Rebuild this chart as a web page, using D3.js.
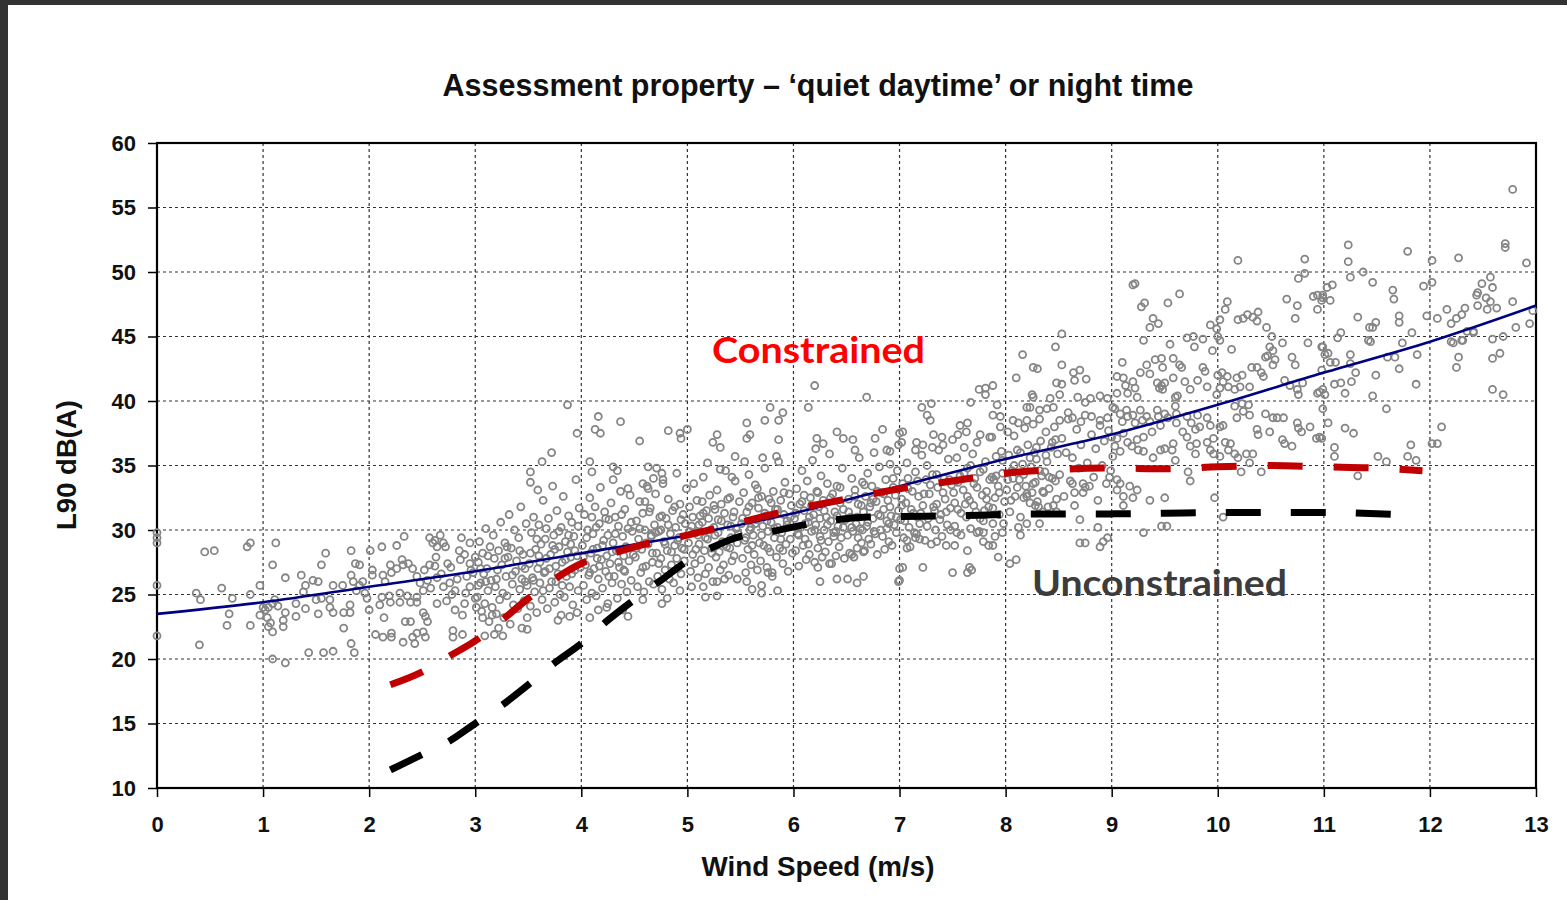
<!DOCTYPE html>
<html>
<head>
<meta charset="utf-8">
<script src="https://cdn.jsdelivr.net/npm/d3@7"></script>
<style>
  body { margin: 0; background: #fff; }
</style>
</head>
<body>
<svg id="chart" width="1567" height="900"></svg>
<script>
// axis ticks
const xTicks = [0, 1, 2, 3, 4, 5, 6, 7, 8, 9, 10, 11, 12, 13];
const yTicks = [10, 15, 20, 25, 30, 35, 40, 45, 50, 55, 60];

// fitted trend (blue)
const trendWind = [0, 1, 2, 3, 4, 5, 6, 7, 8, 9, 10, 11, 12, 13];
const trendL90 = [23.5, 24.4, 25.6, 26.8, 28.2, 29.6, 31.3, 33.4, 35.5, 37.4, 39.7, 42.2, 44.6, 47.4];

// constrained curve (red dashed)
const conWind = [2.2, 2.5, 2.75, 3, 3.25, 3.5, 3.75, 4, 4.3, 4.6, 5, 5.5, 6, 6.5, 7, 7.5, 8, 8.5, 9, 9.5, 10, 10.5, 11, 11.5, 11.93];
const conL90 = [18.0, 19.0, 20.2, 21.4, 23.0, 24.7, 26.2, 27.4, 28.2, 28.9, 29.6, 30.6, 31.6, 32.4, 33.2, 33.8, 34.4, 34.7, 34.8, 34.75, 34.9, 35.0, 34.9, 34.8, 34.6];

// unconstrained curve (black dashed)
const uncWind = [2.2, 2.5, 2.75, 3, 3.25, 3.5, 3.75, 4, 4.25, 4.5, 4.75, 5, 5.25, 5.5, 5.8, 6.1, 6.4, 6.7, 7, 7.5, 8, 8.5, 9, 9.5, 10, 10.5, 11, 11.67];
const uncL90 = [11.4, 12.6, 13.6, 15.0, 16.4, 18.0, 19.7, 21.2, 23.0, 24.6, 26.1, 27.6, 28.7, 29.5, 29.9, 30.4, 30.8, 31.0, 31.05, 31.1, 31.2, 31.25, 31.25, 31.3, 31.35, 31.35, 31.35, 31.2];

// measured L90 vs wind speed, [m/s, dB(A)]
const calmPoints = [[0,29.8],[0,29.4],[0,29.0],[0,25.7],[0,21.8],
[0.45,28.3],[0.54,28.4],[0.37,25.1],[0.41,24.6],[0.4,21.1],[0.61,25.5],[0.66,22.6],[0.68,23.5],[0.71,24.7],[0.85,28.7],[0.88,29.0],[0.88,25.0],[0.88,22.6],[0.97,25.7],
[0.97,23.4],[1.02,23.8],[1.04,23.2],[1.07,22.8],[1.05,22.5],[1.0,24.0],[1.05,24.0],[1.09,24.3],[1.14,24.1],[1.11,24.6],[1.09,22.1],[1.09,20.0],[1.21,19.7],[1.12,29.0],[1.09,27.3],[1.21,26.3],[1.21,23.6],[1.19,23.0],[1.19,22.5],[1.31,24.3],[1.31,23.3],[1.36,26.5],[1.4,25.7],[1.38,25.2],[1.4,23.9],[1.43,20.5],[1.47,26.1],[1.52,26.0],[1.5,24.6],[1.55,24.7],[1.52,23.5],[1.55,27.3],[1.59,28.2],[1.57,20.5],[1.66,20.6],[1.63,24.6],[1.63,24.0],[1.66,23.6],[1.66,25.7],[1.75,25.7],[1.76,23.6],[1.76,22.4],[1.83,28.4],[1.83,26.5],[1.85,26.0],[1.82,24.2],[1.82,23.6],[1.83,21.2],[1.86,20.5],[1.87,27.4],[1.91,27.3],[1.88,25.3],[1.91,25.7],[1.94,26.0],[1.96,25.1],[1.98,24.7],[2.0,23.8],[2.01,28.4],[2.03,26.9],[2.03,26.5],[2.06,21.9],[2.13,21.7],[2.21,22.0],[2.21,21.7],[2.12,28.7],[2.13,26.5],[2.15,26.0],[2.2,27.3],[2.21,26.7],[2.26,27.0],[2.26,28.8],[2.14,23.2],[2.1,24.2],[2.2,24.4],[2.29,24.4],[2.39,24.4],[2.45,24.4],[2.12,24.8],[2.19,24.9],[2.29,25.1],[2.36,24.9],[2.45,24.8],[2.33,29.5],[2.31,27.7],[2.32,27.3],[2.37,27.4],[2.41,27.0],[2.34,22.9],[2.39,22.9],[2.32,21.3],[2.41,21.7],[2.45,22.0],[2.51,22.1],[2.53,21.7],[2.43,21.2],[2.51,23.6],[2.53,23.3],[2.55,22.9],[2.45,26.4],[2.48,25.9],[2.51,25.3],[2.57,29.4],[2.62,29.2],[2.67,29.6],[2.7,29.0],[2.64,28.7],[2.72,28.7],[2.6,29.0],[2.57,27.3],[2.62,27.2],[2.74,27.4],[2.64,24.3],[2.55,26.1],[2.64,26.3],[2.7,25.6],[2.76,25.9],[2.81,25.3],[2.78,25.0],[2.79,22.2],[2.79,21.7],[2.88,21.9],[2.81,23.8],[2.88,23.4],[2.87,29.4],[2.9,24.3],[2.86,27.7],[2.9,28.1],[2.95,27.4],[3.0,27.9],[2.95,29.0],[2.92,26.4],[2.98,26.7],[3.03,25.7],[2.95,25.6],[3.0,24.7],[3.01,24.0],
[2.52,26.9],[2.58,25.5],[2.63,27.9],[2.68,26.6],[2.73,24.5],[2.77,27.1],[2.83,26.2],[2.85,28.4],[2.91,25.1],[2.96,26.9]];

const risingPoints = [[3.02,24.8],[3.03,27.5],[3.04,29.1],[3.05,25.9],[3.06,23.7],[3.07,28.2],[3.08,26.6],[3.09,24.3],[3.1,30.1],[3.11,27.0],[3.12,25.3],[3.13,22.9],[3.14,28.7],[3.15,26.1],[3.16,24.0],[3.17,29.6],[3.18,27.8],[3.19,25.6],[3.2,23.5],[3.21,26.9],[3.22,28.4],[3.23,24.6],[3.24,30.6],[3.25,27.3],[3.26,25.1],[3.27,23.2],[3.28,29.0],[3.29,26.4],[3.3,24.9],[3.31,27.9],[3.32,31.2],[3.33,22.7],[3.34,28.6],[3.35,25.8],[3.36,24.2],[3.37,30.0],[3.38,26.8],[3.39,27.6],[3.4,23.9],[3.41,29.4],[3.42,25.4],[3.43,31.8],[3.44,26.2],[3.45,28.1],[3.46,24.5],[3.47,27.0],[3.48,30.5],[3.49,25.7],
[3.05,27.0],[3.12,28.0],[3.2,26.2],[3.28,27.8],[3.35,26.5],[3.42,28.4],[3.47,26.0],[3.1,26.0],[3.3,28.7],[3.44,27.2],
[3.09,21.8],[3.18,21.9],[3.26,21.8],[3.22,22.4],[3.07,23.2],[3.16,23.4],[3.44,22.4],[3.49,22.3],[3.49,23.2],
[3.51,27.4],[3.52,24.1],[3.53,29.8],[3.54,26.3],[3.55,31.0],[3.56,25.2],[3.57,28.5],[3.58,23.6],[3.59,27.0],[3.6,30.4],[3.61,25.9],[3.62,28.9],[3.63,24.6],[3.64,32.3],[3.65,26.7],[3.66,29.3],[3.67,27.8],[3.68,23.9],[3.69,30.9],[3.7,25.5],[3.71,28.1],[3.72,26.0],[3.73,33.4],[3.74,29.6],[3.75,24.4],[3.76,27.2],[3.77,31.5],[3.78,26.6],[3.79,28.7],[3.8,25.0],[3.81,30.2],[3.82,27.5],[3.83,32.6],[3.84,24.8],[3.85,29.1],[3.86,26.4],[3.87,28.3],[3.88,31.1],[3.89,25.6],[3.9,27.9],[3.91,30.6],[3.92,24.2],[3.93,29.5],[3.94,26.9],[3.95,33.9],[3.96,28.0],[3.97,25.3],[3.98,31.7],[3.99,27.1],
[3.52,28.2],[3.55,26.1],[3.58,29.3],[3.61,27.5],[3.64,25.3],[3.67,30.1],[3.7,27.0],[3.73,28.8],[3.76,26.0],[3.79,29.9],[3.82,25.7],[3.85,27.7],[3.88,29.6],[3.91,26.6],[3.94,28.4],[3.97,30.3],[3.6,28.0],[3.75,28.5],[3.9,28.9],[3.66,26.8],
[3.78,23.0],[3.81,23.4],[3.89,23.3],[3.96,23.6],[4.08,23.2],[4.16,23.8],[4.24,24.0],[4.44,23.3],[4.39,23.8],[4.58,24.6],[4.76,24.3],[4.81,24.7],[4.93,25.3],[5.04,25.6],
[3.87,39.7],[4.16,38.8],[4.13,37.8],[4.18,37.5],[4.37,38.4],[3.96,37.5],[4.55,36.9],[4.82,37.7],[4.93,37.5],[5.0,37.8],[4.94,37.1],[3.72,36.0],[3.63,35.3],[4.08,35.3],[4.1,34.5],[4.3,34.9],[4.34,34.6],[4.3,33.9],[4.63,34.9],[4.71,34.8],[4.76,34.4],[4.68,34.0],[4.77,33.6],[3.52,34.5],[3.52,33.7],[3.59,33.1],[4.44,33.2],[4.58,33.6],[4.63,33.2],
[4.01,28.8],[4.02,25.7],[4.03,31.2],[4.04,27.3],[4.05,24.6],[4.06,30.0],[4.07,26.5],[4.08,32.5],[4.09,28.2],[4.1,25.1],[4.11,29.7],[4.12,27.0],[4.13,31.8],[4.14,24.9],[4.15,28.6],[4.16,26.2],[4.17,30.5],[4.18,33.3],[4.19,27.7],[4.2,25.5],[4.21,29.2],[4.22,31.4],[4.23,26.8],[4.24,28.0],[4.25,24.3],[4.26,30.8],[4.27,27.4],[4.28,32.1],[4.29,25.9],[4.3,29.0],[4.31,26.4],[4.32,31.0],[4.33,28.4],[4.34,24.7],[4.35,30.3],[4.36,27.1],[4.37,33.0],[4.38,25.8],[4.39,29.5],[4.4,26.9],[4.41,31.6],[4.42,28.7],[4.43,25.2],[4.44,30.1],[4.45,27.6],[4.46,32.7],[4.47,26.1],[4.48,29.9],[4.49,28.1],
[4.02,27.9],[4.05,29.4],[4.08,26.7],[4.11,28.5],[4.14,30.2],[4.17,27.2],[4.2,28.8],[4.23,30.9],[4.26,26.4],[4.29,28.3],[4.32,29.7],[4.35,27.5],[4.38,31.2],[4.41,26.8],[4.44,28.6],[4.47,30.6],[4.1,31.0],[4.25,29.6],[4.4,28.0],[4.15,27.8],
[4.51,27.9],[4.52,30.7],[4.53,25.6],[4.54,29.3],[4.55,32.2],[4.56,26.7],[4.57,28.5],[4.58,31.3],[4.59,25.2],[4.6,30.0],[4.61,27.2],[4.62,33.4],[4.63,28.9],[4.64,26.0],[4.65,31.7],[4.66,29.6],[4.67,27.5],[4.68,25.8],[4.69,30.4],[4.7,32.8],[4.71,28.2],[4.72,26.4],[4.73,29.9],[4.74,31.0],[4.75,27.8],[4.76,25.4],[4.77,33.9],[4.78,29.1],[4.79,26.9],[4.8,30.9],[4.81,28.4],[4.82,32.4],[4.83,26.2],[4.84,29.7],[4.85,27.3],[4.86,31.5],[4.87,25.9],[4.88,28.8],[4.89,30.2],[4.9,34.4],[4.91,27.0],[4.92,29.4],[4.93,32.0],[4.94,26.6],[4.95,28.6],[4.96,31.2],[4.97,27.6],[4.98,30.5],[4.99,33.2],
[4.52,28.6],[4.55,30.1],[4.58,27.1],[4.61,29.0],[4.64,31.4],[4.67,28.2],[4.7,29.8],[4.73,27.4],[4.76,31.1],[4.79,28.9],[4.82,30.4],[4.85,28.3],[4.88,31.8],[4.91,29.2],[4.94,30.8],[4.97,28.5],[4.6,32.2],[4.75,30.0],[4.9,27.8],[4.66,29.5]];

const moderatePoints = [[5.01,29.0],[5.02,31.8],[5.03,26.8],[5.04,30.3],[5.05,28.1],[5.06,33.6],[5.07,27.4],[5.08,29.8],[5.09,32.3],[5.1,26.3],[5.11,28.9],[5.12,31.1],[5.13,27.7],[5.14,30.6],[5.15,34.1],[5.16,28.4],[5.17,26.6],[5.18,31.5],[5.19,29.3],[5.2,27.1],[5.21,32.7],[5.22,30.0],[5.23,28.6],[5.24,26.0],[5.25,31.9],[5.26,29.6],[5.27,27.9],[5.28,33.1],[5.29,30.8],[5.3,28.3],[5.31,26.9],[5.32,32.0],[5.33,29.1],[5.34,27.3],[5.35,31.3],[5.36,34.6],[5.37,28.7],[5.38,30.4],[5.39,26.5],[5.4,32.5],[5.41,29.4],[5.42,27.6],[5.43,31.0],[5.44,28.0],[5.45,33.8],[5.46,30.1],[5.47,26.2],[5.48,29.7],[5.49,32.2],
[5.02,29.9],[5.05,31.0],[5.08,28.5],[5.11,30.4],[5.14,32.2],[5.17,29.4],[5.2,30.9],[5.23,28.2],[5.26,31.6],[5.29,29.8],[5.32,30.7],[5.35,28.9],[5.38,32.4],[5.41,30.3],[5.44,31.4],[5.47,29.0],[5.1,29.6],[5.25,30.2],[5.4,28.6],[5.15,31.3],
[5.51,30.5],[5.52,27.8],[5.53,32.9],[5.54,29.2],[5.55,26.7],[5.56,31.4],[5.57,28.5],[5.58,34.3],[5.59,30.0],[5.6,27.3],[5.61,32.1],[5.62,29.6],[5.63,28.1],[5.64,33.5],[5.65,30.8],[5.66,26.9],[5.67,31.7],[5.68,29.0],[5.69,27.6],[5.7,32.6],[5.71,30.3],[5.72,28.8],[5.73,34.8],[5.74,31.1],[5.75,27.1],[5.76,29.9],[5.77,32.4],[5.78,28.3],[5.79,30.6],[5.8,26.4],[5.81,33.0],[5.82,29.4],[5.83,31.6],[5.84,27.9],[5.85,30.2],[5.86,35.3],[5.87,28.6],[5.88,32.3],[5.89,29.8],[5.9,27.4],[5.91,31.2],[5.92,33.7],[5.93,28.9],[5.94,30.7],[5.95,26.8],[5.96,32.8],[5.97,29.3],[5.98,31.9],[5.99,28.2],
[5.52,30.9],[5.55,29.4],[5.58,31.8],[5.61,28.8],[5.64,30.5],[5.67,32.5],[5.7,29.6],[5.73,31.3],[5.76,28.6],[5.79,32.1],[5.82,30.1],[5.85,31.6],[5.88,29.3],[5.91,32.9],[5.94,30.4],[5.97,31.0],[5.6,30.2],[5.75,30.7],[5.9,28.4],[5.66,33.2],
[6.01,30.9],[6.02,28.4],[6.03,33.2],[6.04,29.7],[6.05,27.2],[6.06,32.0],[6.07,30.2],[6.08,34.6],[6.09,28.8],[6.1,31.5],[6.11,29.3],[6.12,27.7],[6.13,33.8],[6.14,30.6],[6.15,28.1],[6.16,32.5],[6.17,29.9],[6.18,35.4],[6.19,31.2],[6.2,27.5],[6.21,30.4],[6.22,33.0],[6.23,28.6],[6.24,31.8],[6.25,29.5],[6.26,34.2],[6.27,27.9],[6.28,32.3],[6.29,30.0],[6.3,28.3],[6.31,31.0],[6.32,33.6],[6.33,29.1],[6.34,35.9],[6.35,30.7],[6.36,27.4],[6.37,32.8],[6.38,29.8],[6.39,31.4],[6.4,28.0],[6.41,33.4],[6.42,30.3],[6.43,28.7],[6.44,32.1],[6.45,29.4],[6.46,34.8],[6.47,31.6],[6.48,27.8],[6.49,30.8],
[6.02,31.3],[6.05,29.6],[6.08,32.2],[6.11,30.5],[6.14,28.9],[6.17,31.9],[6.2,30.0],[6.23,32.9],[6.26,29.2],[6.29,31.5],[6.32,30.4],[6.35,32.5],[6.38,29.5],[6.41,31.1],[6.44,33.3],[6.47,30.2],[6.1,32.7],[6.25,30.9],[6.4,29.9],[6.15,31.0],
[6.51,29.6],[6.52,32.4],[6.53,28.2],[6.54,31.0],[6.55,34.0],[6.56,29.9],[6.57,27.9],[6.58,33.1],[6.59,30.5],[6.6,28.6],[6.61,32.0],[6.62,35.6],[6.63,30.1],[6.64,29.0],[6.65,33.7],[6.66,31.4],[6.67,28.4],[6.68,32.6],[6.69,30.3],[6.7,34.4],[6.71,29.3],[6.72,31.8],[6.73,28.9],[6.74,33.4],[6.75,30.9],[6.76,36.0],[6.77,29.7],[6.78,32.2],[6.79,28.1],[6.8,31.2],[6.81,34.9],[6.82,30.0],[6.83,32.9],[6.84,29.5],[6.85,31.6],[6.86,28.5],[6.87,33.9],[6.88,30.7],[6.89,32.3],[6.9,29.1],[6.91,35.1],[6.92,31.1],[6.93,28.8],[6.94,33.3],[6.95,30.4],[6.96,32.7],[6.97,29.8],[6.98,34.6],[6.99,31.5],
[6.52,31.4],[6.55,30.2],[6.58,32.6],[6.61,29.4],[6.64,31.9],[6.67,33.5],[6.7,30.6],[6.73,32.1],[6.76,29.9],[6.79,33.0],[6.82,31.1],[6.85,32.8],[6.88,30.1],[6.91,31.8],[6.94,34.0],[6.97,31.0],[6.6,31.0],[6.75,32.4],[6.9,30.5],[6.65,30.0],
[6.2,41.2],[6.69,40.3],[6.14,39.5],[5.78,39.5],[5.9,39.1],[5.86,38.5],[5.73,38.5],[5.56,38.3],[5.28,37.4],[5.24,36.8],[5.31,36.4],[5.59,37.4],[5.56,37.1],[5.86,37.0],[6.22,37.1],[6.28,36.7],[6.21,36.3],[6.41,37.6],[6.47,37.1],[6.56,37.0],[6.58,36.2],[6.84,37.8],[6.77,37.1],[6.88,36.2],[6.91,36.1],[7.0,37.5],[6.99,36.6],[5.45,35.7],[5.19,35.2],[5.42,34.1],[5.31,34.7],[5.71,35.6],[5.54,35.3],[5.84,35.7],
[5.17,24.8],[5.28,24.9],[5.35,26.2],[5.28,26.0],[5.61,25.4],[5.7,25.1],[5.7,25.7],[5.85,25.3],[5.76,26.7],[5.8,26.7],[5.56,26.0],[5.15,25.6],[6.25,26.0],[6.23,27.1],[6.34,27.4],[6.41,26.2],[6.51,26.2],[6.6,25.9],[6.66,26.4],[6.55,28.1],[6.66,28.3],[7.0,27.0],[6.99,26.0]];

const breezyPoints = [[7.01,30.8],[7.03,33.6],[7.04,29.4],[7.06,32.1],[7.07,35.2],[7.09,30.2],[7.1,28.7],[7.12,33.0],[7.13,31.3],[7.15,34.5],[7.16,29.7],[7.18,32.6],[7.19,30.5],[7.21,35.8],[7.22,31.9],[7.24,29.2],[7.25,33.9],[7.27,30.9],[7.28,32.8],[7.3,28.9],[7.31,34.3],[7.33,31.5],[7.34,30.0],[7.36,33.3],[7.37,36.2],[7.39,31.2],[7.4,29.5],[7.42,34.0],[7.43,32.4],[7.45,30.4],[7.46,35.5],[7.48,31.7],[7.49,33.5],[7.02,31.9],[7.08,34.0],[7.17,31.0],[7.26,35.0],[7.35,32.0],[7.44,28.8],
[7.02,32.4],[7.05,30.7],[7.08,33.2],[7.11,31.6],[7.14,29.8],[7.17,33.8],[7.2,31.3],[7.23,32.8],[7.26,30.3],[7.29,33.5],[7.32,31.8],[7.35,34.3],[7.38,30.8],[7.41,32.9],[7.44,31.4],[7.47,33.9],
[7.51,32.9],[7.52,30.3],[7.54,35.6],[7.55,31.6],[7.57,34.2],[7.58,29.6],[7.6,33.1],[7.61,36.4],[7.63,31.0],[7.64,34.8],[7.66,32.3],[7.67,30.1],[7.69,35.9],[7.7,33.6],[7.72,31.4],[7.73,36.8],[7.75,29.9],[7.76,34.5],[7.78,32.7],[7.79,30.7],[7.81,35.3],[7.82,33.0],[7.84,31.8],[7.85,37.2],[7.87,34.1],[7.88,30.5],[7.9,32.5],[7.91,35.7],[7.93,33.4],[7.94,31.2],[7.96,36.1],[7.97,34.4],[7.99,32.2],[7.53,33.8],[7.62,32.0],[7.71,34.0],[7.8,31.5],[7.89,33.9],
[7.52,32.1],[7.55,33.7],[7.58,31.3],[7.61,34.4],[7.64,32.6],[7.67,35.0],[7.7,31.9],[7.73,33.3],[7.76,30.9],[7.79,34.7],[7.82,32.4],[7.85,33.9],[7.88,31.7],[7.91,34.2],[7.94,32.9],[7.97,35.4],
[8.01,33.1],[8.03,35.8],[8.04,31.4],[8.06,34.6],[8.08,37.3],[8.09,32.6],[8.11,36.2],[8.13,33.9],[8.14,31.0],[8.16,35.1],[8.18,37.9],[8.19,33.4],[8.21,36.6],[8.23,32.1],[8.24,34.9],[8.26,38.2],[8.28,33.7],[8.29,35.5],[8.31,31.8],[8.33,36.9],[8.34,34.2],[8.36,32.9],[8.38,37.6],[8.39,35.3],[8.41,33.2],[8.43,36.4],[8.44,34.0],[8.46,38.0],[8.48,32.4],[8.49,35.9],[8.07,34.0],[8.17,32.5],[8.27,36.0],[8.37,34.5],[8.47,37.0],
[8.02,33.9],[8.05,32.3],[8.08,35.0],[8.11,33.3],[8.14,36.0],[8.17,34.3],[8.2,32.8],[8.23,35.6],[8.26,33.6],[8.29,36.4],[8.32,34.6],[8.35,33.0],[8.38,35.8],[8.41,34.1],[8.44,36.8],[8.47,33.8],
[8.51,34.3],[8.53,37.1],[8.55,32.6],[8.57,36.0],[8.59,38.6],[8.61,33.8],[8.63,35.6],[8.65,31.9],[8.67,37.8],[8.69,34.8],[8.71,36.6],[8.73,32.9],[8.75,38.9],[8.77,35.2],[8.79,33.4],[8.81,37.4],[8.83,34.1],[8.85,36.3],[8.87,32.3],[8.89,38.1],[8.91,35.0],[8.93,36.9],[8.95,33.6],[8.97,37.7],[8.99,34.6],
[8.53,45.2],[8.47,44.2],[8.53,42.8],[8.16,43.6],[8.26,42.6],[8.3,42.5],[8.1,41.8],[8.64,42.2],[8.7,42.4],[8.76,41.7],[8.65,41.6],[8.48,41.4],[8.53,41.3],[7.75,40.9],[7.81,41.0],[7.88,41.2],[7.81,40.5],[8.25,40.5],[8.26,40.3],[7.67,39.9],[7.21,39.5],[7.3,39.8],[7.26,38.9],[7.29,38.5],[7.92,39.7],[7.88,38.9],[7.95,38.8],
[8.42,40.2],[8.51,40.5],[8.68,40.3],[8.75,39.9],[8.8,40.2],[8.89,40.4],[8.96,40.2],[8.2,39.5],[8.23,39.5],[8.32,39.3],[8.39,39.4],[8.45,39.5],[8.59,39.1],
[8.07,38.5],[8.12,38.3],[8.2,38.5],[8.32,38.6],[8.51,38.5],[8.63,38.7],[8.71,38.4],[8.81,38.8],[8.89,38.5],[8.96,38.7],
[7.57,38.1],[7.64,38.3],[7.63,37.6],[7.55,37.4],[7.5,37.0],[7.4,37.2],[7.32,37.4],[7.41,36.6],[7.31,36.4],[7.16,36.8],[7.22,36.6],[7.15,36.2],[7.03,37.6],[7.02,36.8],[7.76,37.4],[7.87,37.2],[7.95,38.0],[8.02,37.6],
[7.5,26.7],[7.64,26.7],[7.66,27.1],[7.68,26.9],[7.22,27.1],[7.03,27.1],[7.0,26.1],[8.04,27.4],[8.1,27.7],[7.93,27.9],[7.52,28.8],[7.64,28.4],[7.79,29.1],[7.84,28.8],[7.88,28.8],[7.9,29.5],[7.97,29.8],[7.98,30.5],[7.07,29.2],[7.15,29.4],[7.19,29.3],[7.07,28.6],[7.35,29.1],[7.48,30.0],[7.54,29.8],[7.73,29.8],[7.79,29.8],
[8.14,29.6],[8.2,30.5],[8.12,30.2],[8.3,32.2],[8.28,31.9],[8.35,31.4],[8.4,31.8],[8.45,31.9],[8.48,31.4],[8.2,32.6],[8.25,32.9],[8.32,30.5],[8.7,30.8],[8.75,29.0],[8.7,29.0],[8.92,29.1],[8.89,28.7],[8.96,29.4],[8.87,30.2],[8.63,33.6],[8.73,33.6],[8.75,33.3],[8.65,32.9]];

const windyPoints = [[10.19,50.9],[10.82,51.0],[10.82,49.9],[10.76,49.5],[9.2,49.0],[9.22,49.1],[9.64,48.3],[9.28,47.3],[9.31,47.6],[9.53,47.6],[10.09,47.7],[10.07,47.1],[10.65,47.9],[10.75,47.4],[10.73,46.4],[10.9,48.1],[10.94,48.2],[10.99,48.0],[10.94,47.1],
[10.19,46.3],[10.24,46.4],[10.28,46.7],[10.33,46.5],[10.38,46.9],[10.37,46.2],[10.46,45.7],[9.39,46.4],[9.44,46.0],[9.36,45.7],[9.93,45.9],[9.99,45.6],[10.02,46.3],[9.71,44.9],[9.77,45.0],[9.86,44.8],[9.78,44.2],[10.0,45.0],[10.02,44.7],[9.95,43.9],[10.13,44.0],[9.55,44.4],[9.3,44.7],
[10.51,45.0],[10.61,44.5],[10.49,44.2],[10.52,43.9],[10.54,43.2],[10.52,42.8],[10.45,43.4],[10.47,43.5],[10.7,43.4],[10.73,42.8],[10.85,44.5],[10.98,44.2],[11.01,43.6],[9.1,43.0],
[9.27,42.2],[9.33,42.8],[9.36,42.1],[9.41,43.2],[9.47,43.3],[9.48,42.6],[9.58,43.3],[9.64,42.8],[9.66,42.6],[9.86,42.6],[9.88,42.3],
[9.05,41.9],[9.11,41.8],[9.13,41.2],[9.2,41.5],[9.22,41.0],[9.15,40.6],[9.24,40.3],[9.05,40.6],[9.01,39.5],[9.43,41.4],[9.47,41.2],[9.5,41.4],[9.45,41.0],[9.48,40.9],[9.58,41.8],[9.69,41.5],[9.81,41.6],[9.9,41.1],[9.74,40.9],[9.6,40.3],[9.62,40.4],
[10.0,42.0],[10.04,42.2],[10.09,41.9],[10.05,41.5],[10.02,41.0],[9.99,40.5],[10.1,41.1],[10.18,41.8],[10.23,42.0],[10.21,41.1],[10.16,40.9],[10.32,42.6],[10.37,42.6],[10.41,42.2],[10.43,41.9],[10.3,41.1],[10.63,41.6],[10.68,41.2],[10.75,40.9],[10.76,40.5],[10.8,41.4],[10.94,40.6],[10.96,40.7],
[9.03,39.4],[9.08,39.0],[9.14,39.3],[9.15,38.8],[9.1,38.4],[9.2,38.9],[9.22,38.3],[9.27,39.3],[9.29,38.5],[9.33,38.8],[9.36,38.4],[9.38,37.6],[9.43,39.3],[9.44,38.8],[9.46,38.1],[9.5,39.0],[9.53,38.7],[9.6,39.6],[9.61,39.0],[9.61,38.3],[9.67,37.6],[9.71,38.8],[9.75,38.3],[9.79,37.8],[9.81,38.9],[9.83,38.0],[9.9,38.7],[9.93,38.1],[9.96,37.1],[10.02,38.0],[10.05,38.1],[10.16,39.6],[10.18,38.7],[10.23,39.8],[10.24,39.2],[10.29,39.7],[10.3,38.9],[10.37,37.8],[10.38,37.4],[10.45,39.0],[10.49,37.6],[10.52,38.7],[10.56,38.7],[10.62,38.7],[10.61,37.0],[10.63,36.7],[10.7,36.5],[10.75,38.3],[10.76,37.9],[10.79,37.6],[10.87,38.0],[10.93,37.1],[10.96,37.2],[10.99,39.4],
[9.0,37.2],[9.05,37.1],[9.11,37.5],[9.03,36.5],[9.08,36.1],[9.01,35.7],[9.15,36.8],[9.19,36.5],[9.24,37.0],[9.3,37.2],[9.25,36.2],[9.3,36.1],[9.39,35.6],[9.46,36.2],[9.5,36.3],[9.58,36.7],[9.57,36.2],[9.6,35.4],[9.71,37.2],[9.74,36.5],[9.8,36.7],[9.79,35.9],[9.9,36.8],[9.93,36.2],[9.96,35.9],[10.02,35.7],[10.07,36.8],[10.12,36.7],[10.1,36.2],[10.16,35.9],[10.19,35.6],[10.27,35.9],[10.33,35.9],[10.3,35.2],[10.41,34.5],[10.22,34.5],[9.72,34.5],
[8.98,34.1],[9.05,33.9],[9.08,33.6],[9.05,33.1],[9.17,33.4],[9.24,33.1],[9.2,32.5],[9.11,32.6],[9.11,31.9],[9.36,32.3],[9.5,32.5],[9.47,30.3],[9.52,30.3],[9.3,29.8],[9.74,33.8],[9.97,32.5],[10.05,31.0]];

const gustyPoints = [[12.78,56.4],[11.23,52.1],[11.23,50.8],[11.25,49.6],[11.37,50.0],[11.79,51.6],[12.02,50.9],[12.27,51.1],[12.71,52.2],[12.71,51.9],[12.91,50.7],[11.46,49.2],
[11.08,49.0],[11.03,48.8],[10.99,48.2],[11.06,47.8],[10.98,47.8],[11.65,48.6],[11.66,47.9],[11.94,48.9],[12.02,49.2],
[12.49,49.1],[12.57,49.6],[12.59,48.8],[12.45,48.4],[12.44,48.2],[12.53,48.0],[12.57,47.7],[12.45,47.4],[12.54,47.1],[12.63,47.2],[12.78,47.7],
[12.16,47.1],[12.33,47.2],[12.3,46.7],[12.25,46.4],[12.2,46.0],[12.07,46.4],[11.97,46.6],[11.32,46.5],[11.49,46.1],[11.43,45.7],[11.46,45.7],[11.71,46.6],[11.71,46.1],[12.97,47.0],[12.81,45.7],[12.94,46.0],[11.83,45.3],
[11.13,44.9],[11.16,45.3],[11.42,44.7],[11.44,44.6],[11.74,44.5],[12.2,44.6],[12.3,44.7],[12.35,45.4],[12.41,45.3],[12.41,45.4],[12.59,44.8],[12.69,45.0],
[10.99,44.2],[11.04,43.7],[11.06,43.0],[11.11,43.0],[10.98,42.4],[11.25,43.6],[11.25,42.9],[11.6,43.4],[11.67,43.4],[11.88,43.6],[11.3,42.2],[11.71,42.5],[11.49,42.0],
[11.1,41.3],[11.16,41.4],[11.26,41.5],[11.2,40.6],[10.99,40.9],[11.01,40.5],[11.87,41.3],[11.46,40.4],[12.25,42.6],[12.27,43.4],[12.22,44.5],[12.31,44.7],[12.59,43.3],[12.66,43.7],[12.59,40.9],[12.69,40.5],
[11.59,39.4],[11.04,38.3],[11.2,37.9],[11.28,37.5],[12.11,38.0],[12.02,36.7],[12.07,36.7],[11.82,36.6],[11.1,36.4],[11.1,35.7],[11.51,35.7],[11.59,35.3],[11.79,35.7],[11.87,35.4],[11.32,34.2],[10.98,37.1]];

const allPoints = [].concat(calmPoints, risingPoints, moderatePoints, breezyPoints, windyPoints, gustyPoints);

const W = 1567, H = 900;
const svg = d3.select('#chart');
const font = '"Liberation Sans", Arial, sans-serif';

svg.append('rect').attr('width', W).attr('height', H).attr('fill', '#fff');
// dark window frame at top and left
svg.append('rect').attr('x', 0).attr('y', 0).attr('width', W).attr('height', 5).attr('fill', '#333');
svg.append('rect').attr('x', 0).attr('y', 0).attr('width', 8).attr('height', H).attr('fill', '#333');

const x = d3.scaleLinear([0, 13], [157, 1536]);
const y = d3.scaleLinear([10, 60], [788, 143]);

// grid
const grid = svg.append('g').attr('stroke', '#333').attr('stroke-width', 1.2).attr('stroke-dasharray', '3,3');
grid.selectAll('line.v').data(xTicks.slice(1, -1)).enter().append('line')
  .attr('class', 'v')
  .attr('x1', d => x(d)).attr('x2', d => x(d))
  .attr('y1', y(60)).attr('y2', y(10));
grid.selectAll('line.h').data(yTicks.slice(1, -1)).enter().append('line')
  .attr('class', 'h')
  .attr('x1', x(0)).attr('x2', x(13))
  .attr('y1', d => y(d)).attr('y2', d => y(d));

// axes
const yAxis = svg.append('g')
  .attr('transform', `translate(${x(0)},0)`)
  .call(d3.axisLeft(y).tickValues(yTicks).tickSize(9).tickPadding(12));
const xAxis = svg.append('g')
  .attr('transform', `translate(0,${y(10)})`)
  .call(d3.axisBottom(x).tickValues(xTicks).tickSize(9).tickPadding(19));
[xAxis, yAxis].forEach(a => {
  a.select('.domain').remove();
  a.attr('font-family', font).attr('font-size', 22).attr('font-weight', 'bold');
  a.selectAll('line').attr('stroke', '#000').attr('stroke-width', 1.5);
  a.selectAll('text').attr('fill', '#111');
});

// plot border
svg.append('rect')
  .attr('x', x(0)).attr('y', y(60))
  .attr('width', x(13) - x(0)).attr('height', y(10) - y(60))
  .attr('fill', 'none').attr('stroke', '#000').attr('stroke-width', 2.2);

// scatter (open rings)
svg.append('g').selectAll('circle').data(allPoints).enter().append('circle')
  .attr('cx', d => x(d[0]))
  .attr('cy', d => y(d[1]))
  .attr('r', 3.5)
  .attr('fill', 'none')
  .attr('stroke', '#858585')
  .attr('stroke-width', 1.8);

const line = d3.line().x(d => x(d[0])).y(d => y(d[1])).curve(d3.curveMonotoneX);

svg.append('path')
  .datum(d3.zip(trendWind, trendL90))
  .attr('d', line)
  .attr('fill', 'none').attr('stroke', '#000080').attr('stroke-width', 2.6);

svg.append('path')
  .datum(d3.zip(conWind, conL90))
  .attr('d', line)
  .attr('fill', 'none').attr('stroke', '#c00000').attr('stroke-width', 7)
  .attr('stroke-dasharray', '35,31');

svg.append('path')
  .datum(d3.zip(uncWind, uncL90))
  .attr('d', line)
  .attr('fill', 'none').attr('stroke', '#000').attr('stroke-width', 7)
  .attr('stroke-dasharray', '35,30');

// annotations
svg.append('text').text('Constrained')
  .attr('x', 712).attr('y', 363)
  .attr('font-family', 'Lato, "Open Sans", sans-serif').attr('font-weight', 'bold').attr('font-size', 36)
  .attr('fill', '#ff0000')
  .attr('textLength', 213).attr('lengthAdjust', 'spacingAndGlyphs');
svg.append('text').text('Unconstrained')
  .attr('x', 1032).attr('y', 596)
  .attr('font-family', 'Lato, "Open Sans", sans-serif').attr('font-weight', 'bold').attr('font-size', 37)
  .attr('fill', '#3c3c3c')
  .attr('textLength', 255).attr('lengthAdjust', 'spacingAndGlyphs');

// titles
svg.append('text').text('Assessment property \u2013 \u2018quiet daytime\u2019 or night time')
  .attr('x', 818).attr('y', 96).attr('text-anchor', 'middle')
  .attr('font-family', font).attr('font-weight', 'bold').attr('font-size', 30.5)
  .attr('fill', '#111');
svg.append('text').text('Wind Speed (m/s)')
  .attr('x', 818).attr('y', 876).attr('text-anchor', 'middle')
  .attr('font-family', font).attr('font-weight', 'bold').attr('font-size', 27.8)
  .attr('fill', '#111');
svg.append('text').text('L90 dB(A)')
  .attr('transform', 'translate(76,465) rotate(-90)')
  .attr('text-anchor', 'middle')
  .attr('font-family', font).attr('font-weight', 'bold').attr('font-size', 27.5)
  .attr('fill', '#111');
</script>
</body>
</html>
